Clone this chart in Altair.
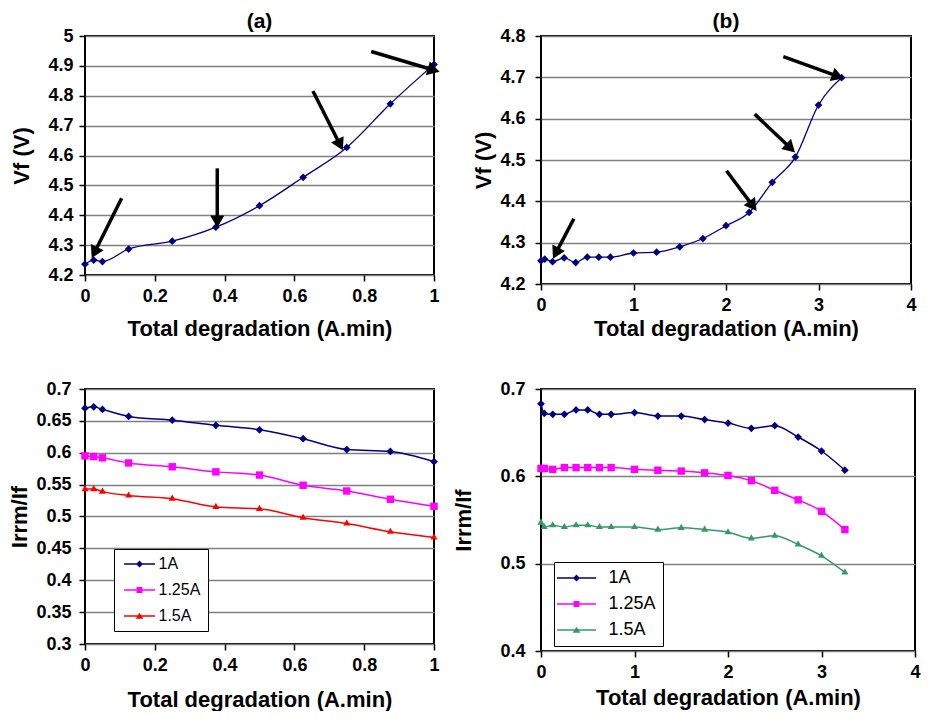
import math
import altair as alt
import pandas as pd

FONT = "Liberation Sans"
NAVY, MAGENTA, RED, GREEN = "#000080", "#FF00FF", "#FF0000", "#339966"

# ---------------- data ----------------
a_x = [0, 0.025, 0.05, 0.125, 0.25, 0.375, 0.5, 0.625, 0.75, 0.875, 1.0]
a_vf = [4.236, 4.250, 4.245, 4.287, 4.313, 4.360, 4.432, 4.527, 4.627, 4.773, 4.905]
a_arrow_x1 = [0.105, 0.379, 0.653, 0.82]
a_arrow_y1 = [4.457, 4.557, 4.816, 4.948]
a_arrow_x2 = [0.022, 0.379, 0.736, 1.01]
a_arrow_y2 = [4.263, 4.365, 4.624, 4.882]

b_x = [0, 0.04, 0.125, 0.25, 0.375, 0.5, 0.625, 0.75, 1.0, 1.25, 1.5, 1.75,
       2.0, 2.25, 2.5, 2.75, 3.0, 3.25]
b_vf = [4.256, 4.260, 4.254, 4.263, 4.252, 4.265, 4.265, 4.265, 4.275, 4.277,
        4.290, 4.310, 4.341, 4.373, 4.446, 4.507, 4.633, 4.699]
b_arrow_x1 = [0.355, 2.005, 2.31, 2.62]
b_arrow_y1 = [4.358, 4.474, 4.611, 4.75]
b_arrow_x2 = [0.14, 2.317, 2.729, 3.25]
b_arrow_y2 = [4.266, 4.381, 4.522, 4.699]

series = ["1A", "1.25A", "1.5A"]

c_x = a_x
c_1A = [0.670, 0.672, 0.668, 0.657, 0.651, 0.643, 0.636, 0.622, 0.605, 0.602, 0.586]
c_125A = [0.595, 0.594, 0.592, 0.584, 0.578, 0.570, 0.565, 0.549, 0.540, 0.527, 0.516]
c_15A = [0.543, 0.543, 0.539, 0.533, 0.528, 0.515, 0.512, 0.498, 0.489, 0.476, 0.467]

d_x = [0, 0.035, 0.125, 0.25, 0.375, 0.5, 0.625, 0.75, 1.0, 1.25, 1.5, 1.75,
       2.0, 2.25, 2.5, 2.75, 3.0, 3.25]
d_1A = [0.683, 0.672, 0.671, 0.671, 0.676, 0.676, 0.671, 0.671, 0.673, 0.669,
        0.669, 0.665, 0.661, 0.655, 0.658, 0.645, 0.629, 0.607]
d_125A = [0.609, 0.609, 0.608, 0.610, 0.610, 0.610, 0.610, 0.610, 0.608, 0.607,
          0.606, 0.604, 0.601, 0.595, 0.584, 0.573, 0.560, 0.539]
d_15A = [0.547, 0.542, 0.544, 0.542, 0.544, 0.544, 0.542, 0.542, 0.542, 0.539,
         0.541, 0.539, 0.536, 0.529, 0.532, 0.522, 0.509, 0.490]

XTITLE = "Total degradation (A.min)"


def arrow_frame(x1, y1, x2, y2, xdom, ydom, w, h, back=6.0):
    rows = []
    for a, b, c, d in zip(x1, y1, x2, y2):
        dxp = (c - a) / (xdom[1] - xdom[0]) * w
        dyp = (d - b) / (ydom[1] - ydom[0]) * h
        ln = math.hypot(dxp, dyp)
        ux, uy = dxp / ln, dyp / ln
        hx = c - ux * back * (xdom[1] - xdom[0]) / w
        hy = d - uy * back * (ydom[1] - ydom[0]) / h
        ang = math.degrees(math.atan2(dxp, dyp)) % 360
        rows.append(dict(x=a, y=b, x2=hx, y2=hy, ang=ang))
    return pd.DataFrame(rows)


def make_axes(xdom, xvals, ydom, yvals, ytitle, xtp, ytp, ylp):
    xs = alt.Scale(domain=xdom, nice=False, zero=False)
    ys = alt.Scale(domain=ydom, nice=False, zero=False)
    xa = alt.Axis(values=xvals, format="~g", title=XTITLE, grid=False,
                  titlePadding=xtp, labelOverlap=False, labelFlush=False)
    ya = alt.Axis(values=yvals, format="~g", title=ytitle, grid=True,
                  titlePadding=ytp, labelOverlap=False, labelFlush=False,
                  labelPadding=ylp)

    def X(f):
        return alt.X(f"{f}:Q", scale=xs, axis=xa)

    def Y(f):
        return alt.Y(f"{f}:Q", scale=ys, axis=ya)
    return X, Y


def vf_panel(xs, ys, arrows, xdom, xvals, ydom, yvals, w, h, title, xtp, ytp, ylp):
    df = pd.DataFrame({"x": xs, "y": ys})
    X, Y = make_axes(xdom, xvals, ydom, yvals, "Vf (V)", xtp, ytp, ylp)
    line = alt.Chart(df).mark_line(color=NAVY, strokeWidth=1.3,
                                   interpolate="monotone").encode(x=X("x"), y=Y("y"))
    pts = alt.Chart(df).mark_point(shape="diamond", filled=True, color=NAVY,
                                   size=60, opacity=1).encode(x=X("x"), y=Y("y"))
    adf = arrow_frame(*arrows, xdom, ydom, w, h)
    rules = alt.Chart(adf).mark_rule(color="black", strokeWidth=3.5).encode(
        x=X("x"), y=Y("y"), x2="x2:Q", y2="y2:Q")
    heads = alt.Chart(adf).mark_point(shape="triangle", filled=True, color="black",
                                      size=200, opacity=1).encode(
        x=X("x2"), y=Y("y2"), angle=alt.Angle("ang:Q", scale=None))
    return alt.layer(line, pts, rules, heads).properties(
        width=w, height=h,
        title=alt.TitleParams(title, fontSize=21, font=FONT, fontWeight="bold",
                              offset=-5, anchor="middle", color="black",
                              frame="group"))


def irr_panel(xs, cols, colors, xdom, xvals, ydom, yvals, w, h, xtp, ytp, ylp,
              half_line, leg):
    rows = []
    for s, vals in zip(series, cols):
        for xv, yv in zip(xs, vals):
            rows.append(dict(x=xv, y=yv, s=s))
    df = pd.DataFrame(rows)
    X, Y = make_axes(xdom, xvals, ydom, yvals, "Irrm/If", xtp, ytp, ylp)
    cscale = alt.Scale(domain=series, range=colors)
    line = alt.Chart(df).mark_line(strokeWidth=1.5, interpolate="monotone").encode(
        x=X("x"), y=Y("y"), color=alt.Color("s:N", scale=cscale, legend=None),
        detail="s:N")
    pts = alt.Chart(df).mark_point(filled=True, opacity=1).encode(
        x=X("x"), y=Y("y"),
        color=alt.Color("s:N", scale=cscale, legend=None),
        shape=alt.Shape("s:N", scale=alt.Scale(domain=series,
                                               range=["diamond", "square", "triangle"]),
                        legend=None),
        size=alt.Size("s:N", scale=alt.Scale(domain=series, range=[60, 50, 65]),
                      legend=None))
    L = half_line
    t = 0.22
    bar = f"M-{L},-{t}H{L}V{t}H-{L}Z"
    paths = [bar + "M0,-1L1,0L0,1L-1,0Z",
             bar + "M-0.85,-0.85H0.85V0.85H-0.85Z",
             bar + "M0,-0.95L1.1,0.8H-1.1Z"]
    lg = dict(orient="none", legendX=leg["x"], legendY=leg["y"], title=None,
              strokeColor="black", fillColor="white", padding=leg["pad"],
              symbolSize=49, symbolOpacity=1, symbolOffset=leg["so"],
              labelOffset=leg["lo"], rowPadding=leg["rp"],
              labelFont=FONT, labelFontSize=leg["fs"], labelFontWeight="normal",
              labelColor="black")
    legend_layer = alt.Chart(df).mark_point(filled=True, opacity=0, size=10).encode(
        x=X("x"), y=Y("y"),
        color=alt.Color("s:N", scale=cscale, title=None, legend=alt.Legend(**lg)),
        shape=alt.Shape("s:N", scale=alt.Scale(domain=series, range=paths),
                        title=None, legend=alt.Legend(**lg)))
    return alt.layer(line, pts, legend_layer).resolve_scale(
        shape="independent", color="independent", size="independent"
    ).properties(width=w, height=h)


tl = vf_panel(a_x, a_vf, (a_arrow_x1, a_arrow_y1, a_arrow_x2, a_arrow_y2),
              [0, 1], [0, 0.2, 0.4, 0.6, 0.8, 1],
              [4.2, 5.0], [4.2, 4.3, 4.4, 4.5, 4.6, 4.7, 4.8, 4.9, 5.0],
              349, 239, "(a)", 13, 14, 6)
tr = vf_panel(b_x, b_vf, (b_arrow_x1, b_arrow_y1, b_arrow_x2, b_arrow_y2),
              [0, 4], [0, 1, 2, 3, 4],
              [4.2, 4.8], [4.2, 4.3, 4.4, 4.5, 4.6, 4.7, 4.8],
              370, 248, "(b)", 4, 4, 10)
bl = irr_panel(c_x, [c_1A, c_125A, c_15A], [NAVY, MAGENTA, RED],
               [0, 1], [0, 0.2, 0.4, 0.6, 0.8, 1],
               [0.3, 0.7], [0.3, 0.35, 0.4, 0.45, 0.5, 0.55, 0.6, 0.65, 0.7],
               349, 255, 15, 4, 8, 4.43,
               dict(x=29, y=160, pad=7, so=10.5, lo=11, rp=10, fs=16))
br = irr_panel(d_x, [d_1A, d_125A, d_15A], [NAVY, MAGENTA, GREEN],
               [0, 4], [0, 1, 2, 3, 4],
               [0.4, 0.7], [0.4, 0.5, 0.6, 0.7],
               374, 262, 6, 24, 10, 5.57,
               dict(x=13, y=173, pad=7, so=6.5, lo=23, rp=8, fs=18))

# plot-area origin of the top-left panel on the page is (85, 36); page margin 8
PL, PT = 77, 28
chart = alt.concat(tl, tr, bl, br, columns=2, spacing={"row": 91, "column": 82},
                   bounds="flush", align="all").properties(
    autosize=alt.AutoSizeParams(type="none"),
    padding={"left": PL, "top": PT, "right": 916 - PL, "bottom": 703 - PT},
    background="white"
).configure_view(stroke="black", strokeWidth=2, fill="white").configure_axis(
    domain=False, ticks=True, tickColor="black", tickSize=6, tickWidth=1.5,
    labelFont=FONT, labelFontSize=18, labelFontWeight="bold", labelColor="black",
    labelPadding=6,
    titleFont=FONT, titleFontSize=22, titleFontWeight="bold", titleColor="black",
    gridColor="#808080", gridWidth=1.3, gridOpacity=1
)

chart.save("out.html", embed_options={"renderer": "svg", "actions": False})
